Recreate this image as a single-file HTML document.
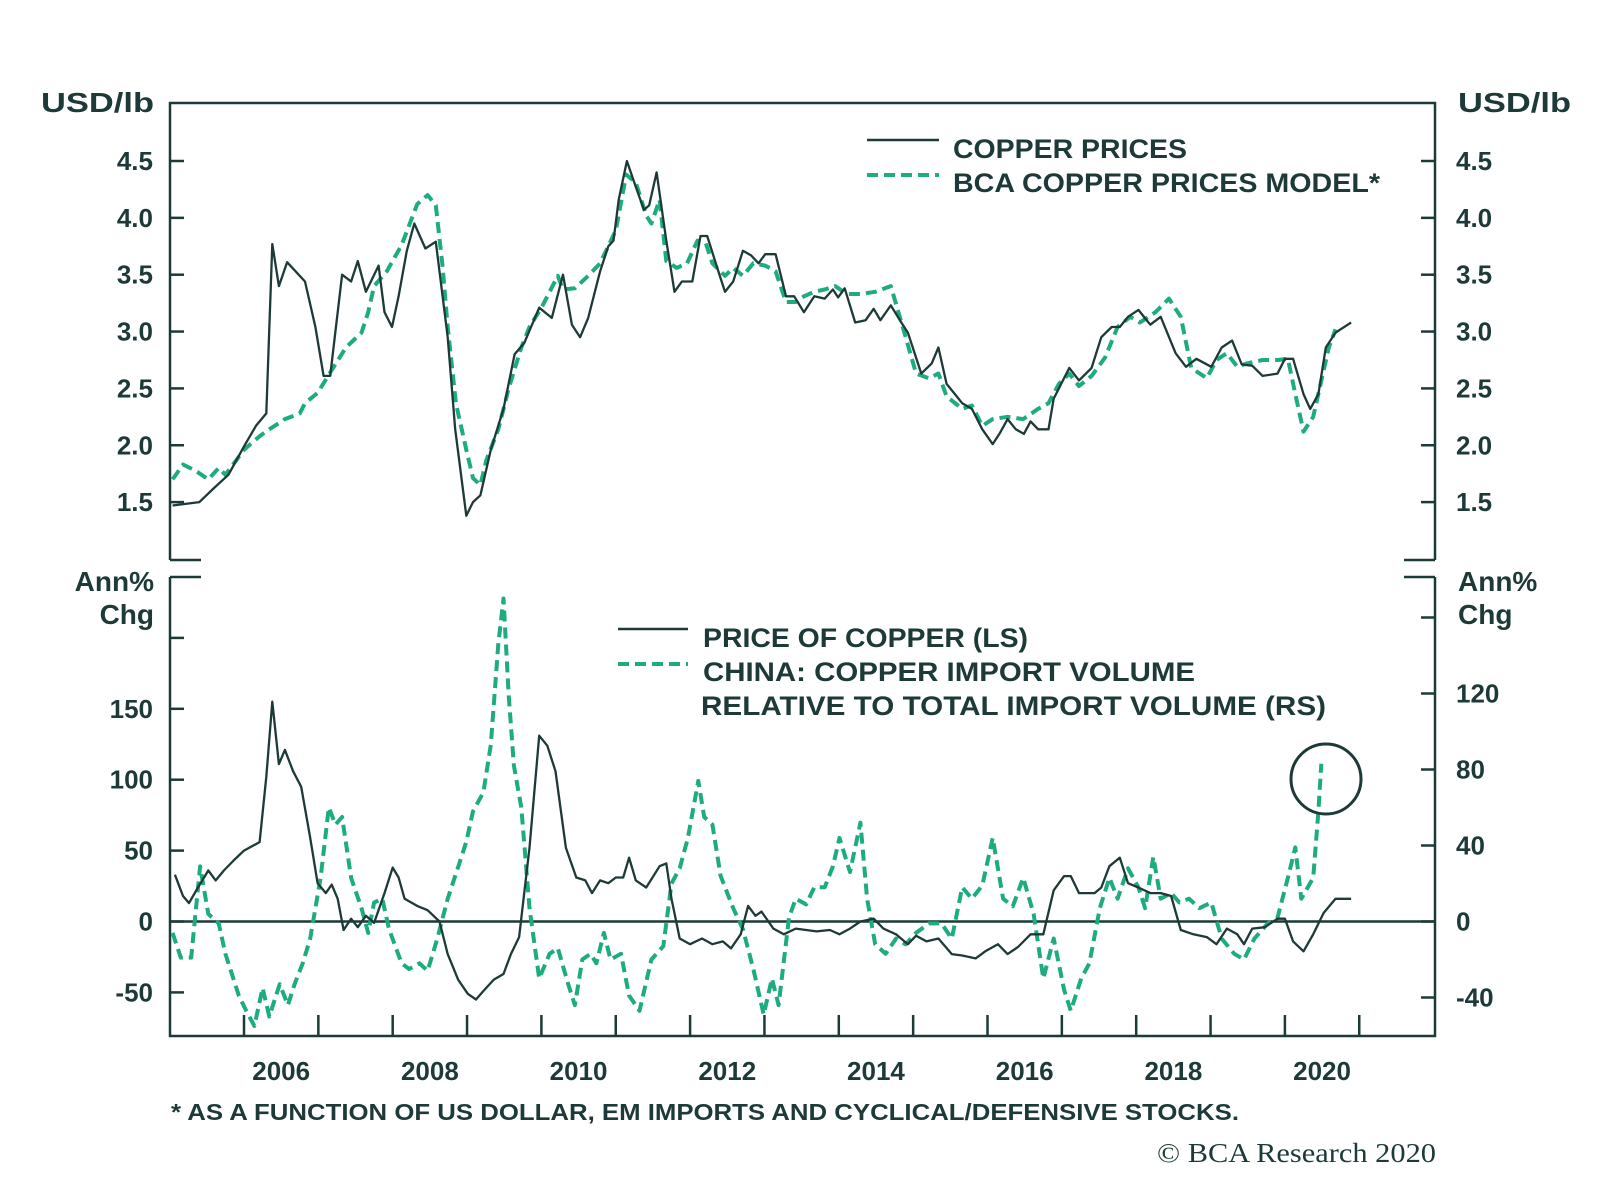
<!DOCTYPE html>
<html><head><meta charset="utf-8"><style>
html,body{margin:0;padding:0;background:#fff;}
svg{display:block;font-family:"Liberation Sans",sans-serif;}
.t{fill:#1d3a39;font-weight:bold;}
</style></head><body>
<svg id="chart" width="1600" height="1198" viewBox="0 0 1600 1198">
<g id="frame" stroke="#1d3a39" stroke-width="2.5" fill="none">
  <path d="M170,560 V103 H1435 V560"/>
  <path d="M170,560 H201 M1404,560 H1435"/>
  <path d="M170,577 H201 M1404,577 H1435"/>
  <path d="M170,577 V1036 H1435 V577"/>
</g>
<g id="ticks" stroke="#1d3a39" stroke-width="2.5"></g>
<g id="series"></g>
<g id="labels"></g>
<text class="t" x="154" y="112" font-size="28" text-anchor="end" textLength="113" lengthAdjust="spacingAndGlyphs">USD/lb</text>
<text class="t" x="1458" y="112" font-size="28" textLength="113" lengthAdjust="spacingAndGlyphs">USD/lb</text>
<text class="t" x="154" y="591" font-size="28" text-anchor="end">Ann%</text>
<text class="t" x="154" y="624" font-size="28" text-anchor="end">Chg</text>
<text class="t" x="1458" y="591" font-size="28">Ann%</text>
<text class="t" x="1458" y="624" font-size="28">Chg</text>
<g>
  <line x1="867" y1="140" x2="939" y2="140" stroke="#1d3a39" stroke-width="2.5"/>
  <line x1="867" y1="175" x2="939" y2="175" stroke="#1dab80" stroke-width="4" stroke-dasharray="11,6"/>
  <text class="t" x="953" y="158" font-size="27" textLength="234" lengthAdjust="spacingAndGlyphs">COPPER PRICES</text>
  <text class="t" x="953" y="192" font-size="27" textLength="427" lengthAdjust="spacingAndGlyphs">BCA COPPER PRICES MODEL*</text>
</g>
<g>
  <line x1="618" y1="629" x2="688" y2="629" stroke="#1d3a39" stroke-width="2.5"/>
  <line x1="618" y1="664" x2="688" y2="664" stroke="#1dab80" stroke-width="4" stroke-dasharray="11,6"/>
  <text class="t" x="703" y="647" font-size="27" textLength="325" lengthAdjust="spacingAndGlyphs">PRICE OF COPPER (LS)</text>
  <text class="t" x="703" y="681" font-size="27" textLength="492" lengthAdjust="spacingAndGlyphs">CHINA: COPPER IMPORT VOLUME</text>
  <text class="t" x="701" y="715" font-size="27" textLength="625" lengthAdjust="spacingAndGlyphs">RELATIVE TO TOTAL IMPORT VOLUME (RS)</text>
</g>
<circle cx="1326" cy="779" r="35" fill="none" stroke="#1d3a39" stroke-width="3"/>
<text class="t" x="171" y="1120" font-size="23" textLength="1068" lengthAdjust="spacingAndGlyphs">* AS A FUNCTION OF US DOLLAR, EM IMPORTS AND CYCLICAL/DEFENSIVE STOCKS.</text>
<text x="1436" y="1162" font-size="27" text-anchor="end" fill="#1d3a39" font-family="Liberation Serif, serif" textLength="279" lengthAdjust="spacingAndGlyphs">© BCA Research 2020</text>
</svg>
<script>
const copperT=[2005.04,2005.40,2005.59,2005.79,2006.00,2006.16,2006.30,2006.38,2006.47,2006.58,2006.82,2006.96,2007.07,2007.16,2007.32,2007.44,2007.53,2007.64,2007.81,2007.89,2007.99,2008.08,2008.19,2008.29,2008.44,2008.58,2008.74,2008.84,2008.99,2009.08,2009.18,2009.32,2009.49,2009.64,2009.77,2009.97,2010.14,2010.29,2010.41,2010.52,2010.63,2010.79,2010.90,2010.97,2011.04,2011.15,2011.26,2011.38,2011.45,2011.55,2011.68,2011.79,2011.89,2012.03,2012.14,2012.23,2012.37,2012.47,2012.58,2012.71,2012.82,2012.92,2013.01,2013.15,2013.29,2013.40,2013.53,2013.67,2013.81,2013.92,2013.99,2014.08,2014.22,2014.36,2014.47,2014.56,2014.70,2014.84,2014.93,2015.11,2015.25,2015.34,2015.45,2015.66,2015.79,2015.93,2016.07,2016.16,2016.27,2016.38,2016.49,2016.58,2016.68,2016.82,2016.89,2017.10,2017.23,2017.40,2017.53,2017.67,2017.78,2017.89,2018.03,2018.19,2018.33,2018.53,2018.67,2018.81,2019.01,2019.15,2019.29,2019.42,2019.56,2019.70,2019.90,2020.00,2020.11,2020.25,2020.34,2020.45,2020.55,2020.68,2020.89];
const copperV=[1.47,1.5,1.62,1.74,1.99,2.17,2.28,3.77,3.4,3.61,3.44,3.04,2.61,2.61,3.5,3.44,3.62,3.35,3.58,3.17,3.04,3.31,3.71,3.95,3.73,3.79,2.95,2.14,1.38,1.5,1.56,1.96,2.32,2.8,2.9,3.21,3.12,3.5,3.06,2.95,3.12,3.53,3.75,3.8,4.16,4.5,4.29,4.07,4.11,4.4,3.8,3.35,3.44,3.44,3.84,3.84,3.55,3.35,3.44,3.71,3.67,3.6,3.68,3.68,3.31,3.31,3.17,3.31,3.29,3.37,3.3,3.38,3.08,3.1,3.2,3.1,3.23,3.08,2.99,2.63,2.72,2.86,2.54,2.37,2.32,2.14,2.01,2.1,2.23,2.14,2.1,2.21,2.14,2.14,2.41,2.68,2.57,2.68,2.95,3.04,3.04,3.13,3.19,3.06,3.13,2.81,2.69,2.76,2.69,2.86,2.92,2.71,2.7,2.61,2.63,2.76,2.76,2.45,2.32,2.45,2.86,2.99,3.08];
const modelT=[2005.04,2005.18,2005.34,2005.52,2005.66,2005.75,2006.00,2006.21,2006.34,2006.55,2006.75,2006.82,2006.99,2007.16,2007.37,2007.58,2007.67,2007.75,2007.92,2008.12,2008.33,2008.47,2008.58,2008.67,2008.74,2008.85,2008.99,2009.08,2009.18,2009.26,2009.42,2009.56,2009.73,2009.84,2010.01,2010.11,2010.22,2010.29,2010.45,2010.63,2010.79,2011.00,2011.14,2011.27,2011.41,2011.48,2011.59,2011.68,2011.82,2011.96,2012.10,2012.21,2012.30,2012.47,2012.58,2012.71,2012.85,2013.01,2013.15,2013.29,2013.42,2013.53,2013.67,2013.81,2013.95,2014.11,2014.29,2014.49,2014.70,2014.90,2015.04,2015.21,2015.34,2015.45,2015.66,2015.79,2015.93,2016.07,2016.27,2016.48,2016.68,2016.82,2016.96,2017.10,2017.23,2017.40,2017.58,2017.75,2017.92,2018.05,2018.26,2018.44,2018.60,2018.74,2018.95,2019.08,2019.22,2019.36,2019.49,2019.70,2019.90,2020.04,2020.14,2020.25,2020.38,2020.48,2020.59,2020.68];
const modelV=[1.7,1.83,1.78,1.7,1.8,1.74,1.96,2.08,2.14,2.23,2.28,2.37,2.46,2.64,2.86,2.99,3.17,3.4,3.53,3.76,4.12,4.2,4.11,3.58,3.04,2.37,1.96,1.71,1.65,1.87,2.14,2.5,2.86,3.04,3.22,3.35,3.49,3.37,3.38,3.49,3.6,3.89,4.38,4.31,4.02,3.95,4.16,3.62,3.56,3.6,3.8,3.78,3.6,3.49,3.56,3.49,3.6,3.58,3.53,3.26,3.26,3.31,3.35,3.37,3.4,3.33,3.33,3.35,3.4,2.95,2.63,2.59,2.63,2.43,2.32,2.35,2.17,2.23,2.25,2.23,2.32,2.37,2.54,2.63,2.52,2.61,2.77,3.04,3.13,3.08,3.17,3.29,3.13,2.68,2.59,2.75,2.81,2.69,2.72,2.75,2.75,2.76,2.45,2.12,2.25,2.54,2.86,3.02];
const priceChgT=[2005.07,2005.18,2005.26,2005.38,2005.52,2005.62,2005.73,2005.86,2006.00,2006.21,2006.30,2006.38,2006.47,2006.55,2006.66,2006.77,2006.89,2006.99,2007.10,2007.18,2007.26,2007.34,2007.44,2007.53,2007.64,2007.75,2007.89,2008.00,2008.08,2008.16,2008.33,2008.47,2008.63,2008.74,2008.88,2009.01,2009.12,2009.22,2009.36,2009.49,2009.59,2009.70,2009.84,2009.97,2010.08,2010.19,2010.33,2010.47,2010.59,2010.68,2010.79,2010.90,2011.00,2011.10,2011.18,2011.27,2011.41,2011.59,2011.68,2011.75,2011.86,2012.00,2012.16,2012.30,2012.44,2012.55,2012.68,2012.78,2012.88,2012.96,2013.12,2013.26,2013.42,2013.56,2013.70,2013.88,2014.01,2014.15,2014.29,2014.47,2014.60,2014.77,2014.93,2015.04,2015.18,2015.34,2015.52,2015.66,2015.84,2015.97,2016.14,2016.27,2016.41,2016.58,2016.75,2016.89,2017.03,2017.12,2017.23,2017.44,2017.53,2017.64,2017.78,2017.89,2018.03,2018.19,2018.33,2018.47,2018.60,2018.77,2018.95,2019.08,2019.22,2019.36,2019.45,2019.56,2019.73,2019.90,2020.00,2020.11,2020.25,2020.38,2020.52,2020.68,2020.89];
const priceChgV=[33,18,13,24,36,29,36,43,50,56,102,155,111,121,106,95,59,27,20,26,16,-6,2,-4,4,-1,20,38,31,16,11,8,0,-23,-41,-51,-55,-49,-41,-37,-23,-11,52,131,124,106,52,31,29,20,29,27,31,31,45,29,24,39,41,16,-12,-16,-12,-16,-14,-19,-9,11,4,7,-5,-9,-5,-6,-7,-6,-9,-5,0,2,-5,-9,-16,-10,-14,-12,-23,-24,-26,-21,-16,-23,-18,-9,-9,22,32,32,20,20,24,39,45,27,24,20,20,18,-6,-9,-11,-16,-5,-9,-16,-5,-4,2,2,-14,-21,-9,6,16,16];
const chinaT=[2005.04,2005.15,2005.29,2005.41,2005.52,2005.66,2005.75,2005.93,2006.03,2006.14,2006.25,2006.34,2006.48,2006.59,2006.68,2006.79,2006.89,2007.03,2007.14,2007.23,2007.32,2007.44,2007.58,2007.67,2007.75,2007.86,2007.95,2008.12,2008.22,2008.36,2008.47,2008.60,2008.74,2008.90,2008.99,2009.08,2009.22,2009.32,2009.42,2009.49,2009.56,2009.63,2009.73,2009.84,2009.97,2010.11,2010.22,2010.36,2010.45,2010.55,2010.66,2010.74,2010.84,2010.93,2011.07,2011.18,2011.32,2011.48,2011.64,2011.75,2011.86,2011.97,2012.11,2012.19,2012.30,2012.41,2012.58,2012.71,2012.85,2012.99,2013.10,2013.19,2013.33,2013.42,2013.56,2013.67,2013.81,2013.92,2014.01,2014.15,2014.29,2014.38,2014.49,2014.63,2014.77,2014.90,2015.04,2015.21,2015.38,2015.52,2015.66,2015.79,2015.93,2016.07,2016.21,2016.34,2016.48,2016.62,2016.75,2016.89,2017.03,2017.12,2017.26,2017.37,2017.51,2017.64,2017.75,2017.89,2018.03,2018.12,2018.23,2018.33,2018.47,2018.58,2018.71,2018.85,2019.01,2019.15,2019.32,2019.45,2019.59,2019.77,2019.90,2020.04,2020.14,2020.22,2020.38,2020.45,2020.49];
const chinaV=[-6,-19,-19,29,4,-1,-17,-39,-47,-55,-35,-50,-33,-44,-33,-22,-9,23,60,51,55,23,7,-6,10,12,-4,-22,-25,-22,-26,-9,12,31,42,58,68,93,146,170,119,82,60,7,-30,-17,-14,-33,-44,-20,-17,-22,-6,-20,-17,-39,-47,-20,-13,20,28,44,74,55,51,24,7,-4,-25,-49,-30,-44,2,12,9,18,18,29,44,26,52,12,-12,-17,-9,-12,-6,-1,-1,-9,18,12,19,44,12,8,23,4,-30,-9,-36,-47,-30,-22,7,23,12,28,18,7,34,12,15,10,12,7,10,-9,-17,-20,-9,-1,2,23,39,12,23,58,83];
const topTicks=[1.5,2.0,2.5,3.0,3.5,4.0,4.5];
const leftTicks=[-50,0,50,100,150,200];
const leftTickLabels=["-50","0","50","100","150",""];
const rightTicks=[-40,0,40,80,120,160];
const rightTickLabels=["-40","0","40","80","120",""];
const yearTicks=[2006,2007,2008,2009,2010,2011,2012,2013,2014,2015,2016,2017,2018,2019,2020,2021];
const yearLabels=[2006,2008,2010,2012,2014,2016,2018,2020];

const NS="http://www.w3.org/2000/svg";
const xS=t=>244+(t-2006)*74.35;
const yTop=v=>161+(4.5-v)*113.7;
const yL=v=>921.5-v*1.418;
const yR=v=>921.5-v*1.9;
const ticksG=document.getElementById('ticks');
const labelsG=document.getElementById('labels');
const seriesG=document.getElementById('series');
function mk(tag,attrs,parent){const e=document.createElementNS(NS,tag);for(const k in attrs)e.setAttribute(k,attrs[k]);parent.appendChild(e);return e;}
function label(x,y,txt,anchor){const e=mk('text',{x:x,y:y,'font-size':26,'text-anchor':anchor,class:'t'},labelsG);e.textContent=txt;return e;}

topTicks.forEach(v=>{
  const y=yTop(v);
  const a=mk('line',{x1:170,y1:y,x2:184,y2:y},ticksG);
  
  
  const b=mk('line',{x1:1421,y1:y,x2:1435,y2:y},ticksG);
  
  
  const l1=label(153,y+9,v.toFixed(1),'end');
  
  
  const l2=label(1456,y+9,v.toFixed(1),'start');
  
  
});
leftTicks.forEach((v,i)=>{
  const y=yL(v);
  const a=mk('line',{x1:170,y1:y,x2:184,y2:y},ticksG);
  
  
  if(leftTickLabels[i]){const l=label(153,y+9,leftTickLabels[i],'end');
  
  }
});
rightTicks.forEach((v,i)=>{
  const y=yR(v);
  const a=mk('line',{x1:1421,y1:y,x2:1435,y2:y},ticksG);
  
  
  if(rightTickLabels[i]){const l=label(1456,y+9,rightTickLabels[i],'start');
  
  }
});
yearTicks.forEach(t=>{
  const x=xS(t);
  const a=mk('line',{x1:x,y1:1036,x2:x,y2:1015},ticksG);
  
  
});
yearLabels.forEach(t=>{
  const l=label(xS(t+0.5),1080,String(t),'middle');
  
  
});
const zero=mk('line',{x1:170,y1:yL(0),x2:1435,y2:yL(0),stroke:'#1d3a39','stroke-width':2.5},seriesG);



function series(T,V,yf,dashed,name){
  const d=T.map((t,i)=>(i?'L':'M')+xS(t).toFixed(1)+','+yf(V[i]).toFixed(1)).join(' ');
  const p=mk('path',{d:d,fill:'none',stroke:dashed?'#1dab80':'#1d3a39','stroke-width':dashed?4:2.3,'stroke-linejoin':'round'},seriesG);
  if(dashed)p.setAttribute('stroke-dasharray','11,6');
  
  
}
series(modelT,modelV,yTop,true,'bca-model-line');
series(copperT,copperV,yTop,false,'copper-prices-line');
series(chinaT,chinaV,yR,true,'china-import-line');
series(priceChgT,priceChgV,yL,false,'copper-price-change-line');
</script>
</body></html>
